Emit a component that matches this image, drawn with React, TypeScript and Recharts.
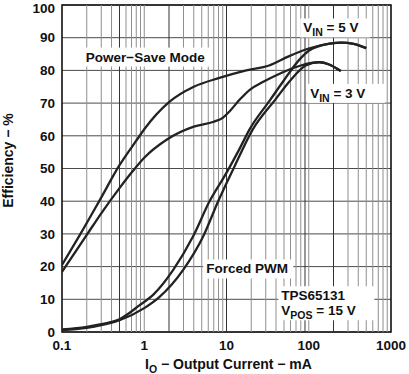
import {
  LineChart,
  Line,
  XAxis,
  YAxis,
  CartesianGrid,
  ReferenceLine,
  ReferenceArea,
  ReferenceDot
} from "recharts";

// efficiency curves: [output current mA, efficiency %]
const powerSave5V = [
  [0.1, 20.5], [0.165, 29.7], [0.289, 40.4], [0.5, 51], [0.8, 58.5], [1, 62],
  [2, 70.3], [4, 75], [8.2, 77.7], [17.4, 80], [33, 81.5], [57, 84.3],
  [100, 86.7], [180, 88.2], [250, 88.5], [350, 88.1], [500, 86.8]
];
const powerSave3V = [
  [0.1, 18.4], [0.2, 29.7], [0.3, 36.3], [0.5, 44], [0.73, 49.3], [1, 53.3],
  [1.87, 58.8], [4, 62.8], [7, 64.3], [9, 65.5], [11, 67.6], [14.4, 71], [19, 74],
  [28, 76.5], [47, 79.3], [80, 81.5], [134, 82.5], [177, 81.8], [245, 79.8]
];
const forcedPwm5V = [
  [0.1, 0.8], [0.2, 1.6], [0.3, 2.4], [0.5, 3.9], [0.88, 8.2], [1.3, 11.5],
  [2.24, 18.9], [3.9, 29.1], [6.2, 39.9], [9.9, 48.5], [14.4, 56], [19, 61.9],
  [34, 71], [50, 77], [77, 83.3], [100, 86], [180, 88.2], [250, 88.5],
  [350, 88.1], [500, 86.8]
];
const forcedPwm3V = [
  [0.1, 0.6], [0.2, 1.3], [0.3, 2.1], [0.5, 3.6], [1, 7.3], [1.5, 10.5],
  [2.96, 18.9], [5.18, 29.1], [7.9, 39.9], [12.5, 50.6], [20.8, 61.9],
  [39, 71], [60, 77], [92, 81.5], [134, 82.5], [177, 81.8], [245, 79.8]
];

const xTicks = [0.1, 1, 10, 100, 1000];
const yTicks = [0, 10, 20, 30, 40, 50, 60, 70, 80, 90, 100];
const decades = [0.1, 1, 10, 100];
const xMinor = decades.flatMap((d) => [2, 3, 4, 5, 6, 7, 8, 9].map((m) => d * m)).concat([1, 10, 100]);
// grid lines that print darker in the scanned original
const xDarkGrid = [0.5, 2, 10, 90, 200];

type Seg = { t: string; sub?: boolean };
const annotations: { x: number; y: number; w: number; lines: Seg[][] }[] = [
  { x: 0.195, y: 82.7, w: 128, lines: [[{ t: "Power−Save Mode" }]] },
  { x: 85.7, y: 91.6, w: 70, lines: [[{ t: "V" }, { t: "IN", sub: true }, { t: " = 5 V" }]] },
  { x: 104, y: 71.6, w: 78, lines: [[{ t: "V" }, { t: "IN", sub: true }, { t: " = 3 V" }]] },
  { x: 5.68, y: 17.9, w: 90, lines: [[{ t: "Forced PWM" }]] },
  {
    x: 46.4, y: 9.7, w: 96,
    lines: [[{ t: "TPS65131" }], [{ t: "V" }, { t: "POS", sub: true }, { t: " = 15 V" }]]
  }
];

const toPoints = (rows: number[][]) => rows.map(([x, y]) => ({ x, y }));
const series = [powerSave5V, powerSave3V, forcedPwm5V, forcedPwm3V];

const FONT = "'Liberation Sans', Arial, Helvetica, sans-serif";
const LINE_GAP = 15;

function Annotation(props: any) {
  const { cx, cy, w, lines } = props;
  if (cx == null || cy == null) return null;
  return (
    <g>
      <rect x={cx - 3} y={cy - 14} width={w} height={19 + LINE_GAP * (lines.length - 1)} fill="#fff" />
      {lines.map((segs: Seg[], i: number) => (
        <text key={i} x={cx} y={cy + i * LINE_GAP} fontFamily={FONT} fontWeight={700} fontSize={13.5} fill="#111">
          {segs.map((s, j) => {
            const prevSub = j > 0 && segs[j - 1].sub;
            const dy = s.sub ? 4 : prevSub ? -4 : 0;
            return (
              <tspan key={j} dy={dy} fontSize={s.sub ? 10.5 : 13.5}>
                {s.t}
              </tspan>
            );
          })}
        </text>
      ))}
    </g>
  );
}

function YLabel(props: any) {
  const { x, y, height } = props.viewBox;
  const cx = x + 13;
  const cy = y + height / 2 - 8;
  return (
    <text x={cx} y={cy} transform={`rotate(-90, ${cx}, ${cy})`} textAnchor="middle"
      fontFamily={FONT} fontWeight={700} fontSize={14} fill="#111">
      Efficiency − %
    </text>
  );
}

function XLabel(props: any) {
  const { x, y, width } = props.viewBox;
  return (
    <text x={x + width / 2 + 2} y={y + 37} textAnchor="middle"
      fontFamily={FONT} fontWeight={700} fontSize={14} fill="#111">
      <tspan>I</tspan>
      <tspan dy={4} fontSize={10.5}>O</tspan>
      <tspan dy={-4}> − Output Current − mA</tspan>
    </text>
  );
}

export default function App() {
  const tickStyle = { fill: "#111", fontSize: 13.5, fontWeight: 700, fontFamily: FONT };
  return (
    <div style={{ position: "absolute", left: 0, top: 0, background: "#fff" }}>
      <LineChart width={409} height={374} margin={{ top: 5, right: 18, bottom: 0, left: 0 }}>
        <CartesianGrid vertical={false} stroke="#4a4a4a" strokeWidth={1} />
        {xMinor.map((v) => (
          <ReferenceLine
            key={v}
            x={v}
            stroke={xDarkGrid.some((d) => Math.abs(d - v) < 1e-9) ? "#333" : "#8f8f8f"}
            strokeWidth={1}
          />
        ))}
        <XAxis
          dataKey="x"
          type="number"
          scale="log"
          domain={[0.1, 1000]}
          allowDataOverflow
          ticks={xTicks}
          tickFormatter={(v) => String(v)}
          tick={tickStyle}
          tickLine={false}
          axisLine={false}
          height={42}
          label={{ content: XLabel }}
        />
        <YAxis
          type="number"
          domain={[0, 100]}
          ticks={yTicks}
          tick={tickStyle}
          tickLine={false}
          axisLine={false}
          tickSize={5}
          width={62}
          label={{ content: YLabel }}
        />
        <ReferenceArea x1={0.1} x2={1000} y1={0} y2={100} fill="none" stroke="#111" strokeWidth={1.6} />
        {series.map((rows, i) => (
          <Line
            key={i}
            data={toPoints(rows)}
            dataKey="y"
            type="monotone"
            stroke="#222"
            strokeWidth={2.3}
            dot={false}
            isAnimationActive={false}
          />
        ))}
        {annotations.map((a, i) => (
          <ReferenceDot
            key={i}
            x={a.x}
            y={a.y}
            r={0}
            shape={(p: any) => <Annotation {...p} w={a.w} lines={a.lines} />}
          />
        ))}
      </LineChart>
    </div>
  );
}
